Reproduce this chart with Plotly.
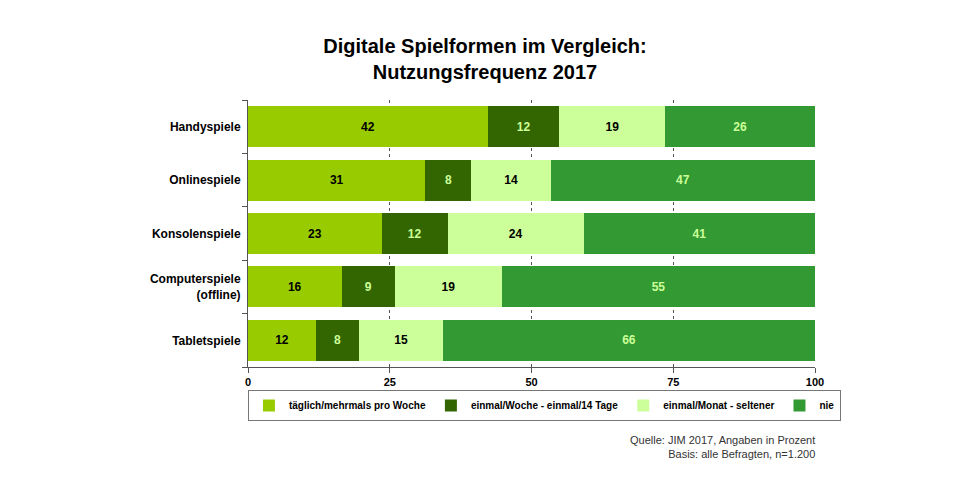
import plotly.graph_objects as go

categories = ["Handyspiele", "Onlinespiele", "Konsolenspiele", "Computerspiele<br>(offline)", "Tabletspiele"]
series_names = ["täglich/mehrmals pro Woche", "einmal/Woche - einmal/14 Tage", "einmal/Monat - seltener", "nie"]
# bar lengths and the printed labels
taeglich = [42.3, 31.3, 23.6, 16.5, 12.0]
woechentlich = [12.6, 8.1, 11.6, 9.4, 7.6]
monatlich = [18.7, 14.0, 24.0, 18.9, 14.8]
nie = [26.4, 46.6, 40.8, 55.2, 65.6]
taeglich_labels = [42, 31, 23, 16, 12]
woechentlich_labels = [12, 8, 12, 9, 8]
monatlich_labels = [19, 14, 24, 19, 15]
nie_labels = [26, 47, 41, 55, 66]
series_values = [taeglich, woechentlich, monatlich, nie]
series_labels = [taeglich_labels, woechentlich_labels, monatlich_labels, nie_labels]
colors = ["#99cc00", "#336600", "#ccff99", "#339933"]
label_colors = ["#000000", "#ccff99", "#000000", "#ccff99"]
x_ticks = [0, 25, 50, 75, 100]

FONT = "Liberation Sans, Arial"

fig = go.Figure()
for name, vals, labs, col, lc in zip(series_names, series_values, series_labels, colors, label_colors):
    fig.add_trace(go.Bar(
        y=categories, x=vals, name=name, orientation="h",
        marker=dict(color=col, line=dict(width=0)),
        text=[str(v) for v in labs], texttemplate="%{text}", textposition="inside",
        insidetextanchor="middle", textangle=0, constraintext="none",
        textfont=dict(family=FONT, size=12, color=lc, weight="bold"),
        hoverinfo="skip",
    ))

# page body adds an 8px offset; margins compensate
L, R, T, B = 240, 153, 92, 127
fig.update_layout(
    barmode="stack",
    bargap=0.23,
    width=960, height=486,
    margin=dict(l=L, r=R, t=T, b=B, autoexpand=False),
    paper_bgcolor="white", plot_bgcolor="white",
    font=dict(family=FONT, color="#000000"),
    title=dict(
        text="<b>Digitale Spielformen im Vergleich:<br>Nutzungsfrequenz 2017</b>",
        x=(485-8)/960, xanchor="center", xref="container",
        y=1 - 45/486, yanchor="middle", yref="container",
        font=dict(size=20, family=FONT, color="#000000"),
    ),
    xaxis=dict(
        range=[0, 100], tickvals=x_ticks, ticktext=[str(v) for v in x_ticks],
        showline=True, linecolor="#555555", linewidth=1,
        ticks="outside", ticklen=5, tickcolor="#555555",
        showgrid=True, gridcolor="#555555", griddash="dot", gridwidth=1,
        zeroline=False, automargin=False,
        tickfont=dict(size=11, family=FONT, weight="bold"),
    ),
    yaxis=dict(
        categoryorder="array", categoryarray=categories[::-1],
        autorange=False, range=[-0.5, 4.5],
        showline=True, linecolor="#555555", linewidth=1,
        ticks="outside", ticklen=5, tickcolor="#555555", tickson="boundaries",
        tickfont=dict(size=12, family=FONT, weight="bold"),
        ticklabelstandoff=4, automargin=False,
    ),
    legend=dict(
        orientation="h", xref="paper", x=-0.0001, xanchor="left",
        yref="paper", y=-(390-367)/267, yanchor="top",
        bordercolor="#777777", borderwidth=1,
        font=dict(size=10, family=FONT, weight="bold"),
        itemwidth=30, traceorder="normal",
    ),
    showlegend=True,
)

fig.add_annotation(
    text="Quelle: JIM 2017, Angaben in Prozent<br>Basis: alle Befragten, n=1.200",
    xref="paper", yref="paper", x=(817-248)/567, y=-(432-367)/267,
    xanchor="right", yanchor="top", align="right", showarrow=False,
    font=dict(size=11, family=FONT, color="#333333"),
)

fig.write_html("out.html")
